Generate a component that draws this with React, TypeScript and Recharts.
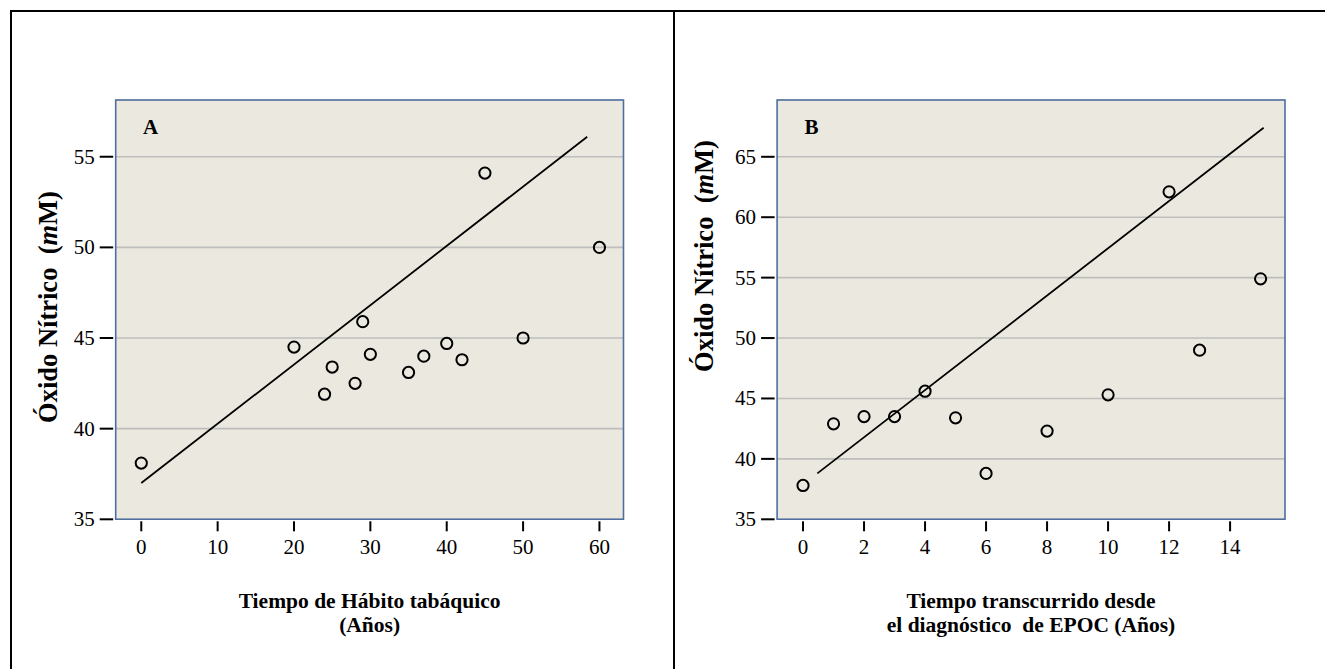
import { ScatterChart, Scatter, XAxis, YAxis, CartesianGrid, ReferenceLine, ReferenceArea } from 'recharts'

// Panel A: tiempo de hábito tabáquico (años) vs óxido nítrico (mM)
const habitoAnios = [0, 20, 24, 25, 28, 29, 30, 35, 37, 40, 42, 45, 50, 60]
const habitoNO = [38.1, 44.5, 41.9, 43.4, 42.5, 45.9, 44.1, 43.1, 44.0, 44.7, 43.8, 54.1, 45.0, 50.0]
const habitoRecta = [{ x: 0, y: 37.0 }, { x: 58.4, y: 56.1 }]
const habitoTicksX = [0, 10, 20, 30, 40, 50, 60]
const habitoTicksY = [35, 40, 45, 50, 55]

// Panel B: tiempo desde el diagnóstico de EPOC (años) vs óxido nítrico (mM)
const epocAnios = [0, 1, 2, 3, 4, 5, 6, 8, 10, 12, 13, 15]
const epocNO = [37.8, 42.9, 43.5, 43.5, 45.6, 43.4, 38.8, 42.3, 45.3, 62.1, 49.0, 54.9]
const epocRecta = [{ x: 0.47, y: 38.8 }, { x: 15.1, y: 67.4 }]
const epocTicksX = [0, 2, 4, 6, 8, 10, 12, 14]
const epocTicksY = [35, 40, 45, 50, 55, 60, 65]

const SERIF = "'Liberation Serif', 'Times New Roman', serif"
const FONDO = '#EBE9DF'
const MARCO = '#4E6F9F'

const XTick = (props: any) => {
  const { x, y, payload } = props
  return (
    <g>
      <line x1={x} x2={x} y1={y + 2} y2={y + 12} stroke="#000" strokeWidth={2} />
      <text x={x} y={y + 35} textAnchor="middle" fontSize={21} fontFamily={SERIF} fill="#000">
        {payload.value}
      </text>
    </g>
  )
}

const YTick = (props: any) => {
  const { x, y, payload } = props
  return (
    <g>
      <line x1={x - 16} x2={x - 2.5} y1={y} y2={y} stroke="#000" strokeWidth={2} />
      <text x={x - 21} y={y + 7} textAnchor="end" fontSize={21} fontFamily={SERIF} fill="#000">
        {payload.value}
      </text>
    </g>
  )
}

const Circulo = (props: any) => (
  <circle cx={props.cx} cy={props.cy} r={5.6} fill="none" stroke="#000" strokeWidth={2} />
)

interface PanelProps {
  xs: number[]
  ys: number[]
  recta: { x: number; y: number }[]
  ticksX: number[]
  ticksY: number[]
  domX: [number, number]
  domY: [number, number]
  width: number
  margin: { top: number; right: number; bottom: number; left: number }
}

function Panel({ xs, ys, recta, ticksX, ticksY, domX, domY, width, margin }: PanelProps) {
  const data = xs.map((x, i) => ({ x, y: ys[i] }))
  return (
    <ScatterChart width={width} height={669} margin={margin}>
      <CartesianGrid vertical={false} fill={FONDO} fillOpacity={1} stroke="#BDBDBD" strokeWidth={1.6} />
      <XAxis
        type="number" dataKey="x" domain={domX} ticks={ticksX} interval={0}
        allowDataOverflow height={60} axisLine={false} tickLine={false}
        tickSize={0} tickMargin={0} tick={<XTick />}
      />
      <YAxis
        type="number" dataKey="y" domain={domY} ticks={ticksY} interval={0}
        allowDataOverflow width={60} axisLine={false} tickLine={false}
        tickSize={0} tickMargin={0} tick={<YTick />}
      />
      <ReferenceLine segment={recta} stroke="#000" strokeWidth={1.8} />
      <Scatter data={data} shape={Circulo} isAnimationActive={false} />
      <ReferenceArea x1={domX[0]} x2={domX[1]} y1={domY[0]} y2={domY[1]} fill="none" stroke={MARCO} strokeWidth={1.6} />
    </ScatterChart>
  )
}

const abs = (s: React.CSSProperties): React.CSSProperties => ({ position: 'absolute', ...s })

const tituloY: React.CSSProperties = {
  fontFamily: SERIF, fontWeight: 'bold', fontSize: 26.5, lineHeight: '26.5px',
  whiteSpace: 'pre', color: '#000',
}

const tituloX: React.CSSProperties = {
  fontFamily: SERIF, fontWeight: 'bold', fontSize: 21.5, lineHeight: '24px',
  whiteSpace: 'pre', textAlign: 'center', color: '#000', width: 600,
}

const letra: React.CSSProperties = {
  fontFamily: SERIF, fontWeight: 'bold', fontSize: 21, lineHeight: '21px', color: '#000',
}

export default function App() {
  return (
    <div style={abs({ left: 0, top: 0, width: 1325, height: 669, overflow: 'hidden', background: '#fff' })}>
      <div style={abs({ left: 0, top: 0 })}>
        <Panel
          xs={habitoAnios} ys={habitoNO} recta={habitoRecta}
          ticksX={habitoTicksX} ticksY={habitoTicksY}
          domX={[-3.35, 63.15]} domY={[35, 58.13]}
          width={674} margin={{ top: 100, right: 50.5, bottom: 89.7, left: 55.7 }}
        />
      </div>
      <div style={abs({ left: 674, top: 0 })}>
        <Panel
          xs={epocAnios} ys={epocNO} recta={epocRecta}
          ticksX={epocTicksX} ticksY={epocTicksY}
          domX={[-0.85, 15.8]} domY={[35, 69.7]}
          width={651} margin={{ top: 100, right: 40, bottom: 89.7, left: 43.1 }}
        />
      </div>

      {/* marco exterior */}
      <div style={abs({ left: 10, top: 10, width: 1315, height: 2, background: '#000' })} />
      <div style={abs({ left: 10, top: 10, width: 2, height: 659, background: '#000' })} />
      <div style={abs({ left: 673, top: 10, width: 2, height: 659, background: '#000' })} />

      <div style={abs({ ...letra, left: 143, top: 117.4 })}>A</div>
      <div style={abs({ ...letra, left: 804.6, top: 117.4 })}>B</div>

      <div style={abs({ ...tituloY, left: 47.6, top: 307, transform: 'translate(-50%, -50%) rotate(-90deg)' })}>
        Óxido Nítrico  (<i>m</i>M)
      </div>
      <div style={abs({ ...tituloY, left: 703.6, top: 256, transform: 'translate(-50%, -50%) rotate(-90deg)' })}>
        Óxido Nítrico  (<i>m</i>M)
      </div>

      <div style={abs({ ...tituloX, left: 369.6 - 300, top: 589 })}>
        {'Tiempo de Hábito tabáquico\n(Años)'}
      </div>
      <div style={abs({ ...tituloX, left: 1031 - 300, top: 589 })}>
        {'Tiempo transcurrido desde\nel diagnóstico  de EPOC (Años)'}
      </div>
    </div>
  )
}
